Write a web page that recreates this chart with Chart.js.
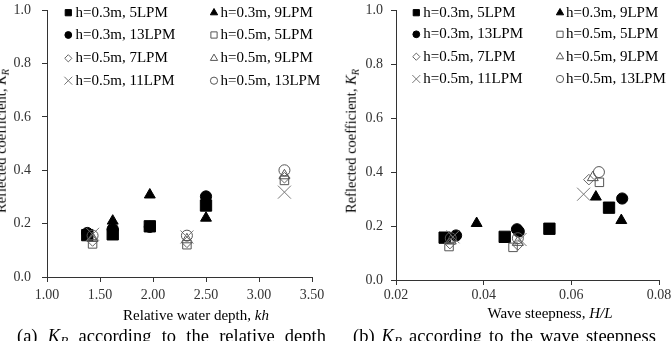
<!DOCTYPE html>
<html><head><meta charset="utf-8">
<script src="https://cdn.jsdelivr.net/npm/chart.js@4"></script>
<style>
html,body{margin:0;padding:0;background:#fff;width:672px;height:341px;overflow:hidden;}
body{position:relative;font-family:"Liberation Serif","Times New Roman",serif;color:#000;}
canvas{position:absolute;top:0;}
#ca{left:0;} #cb{left:336px;}
.t{position:absolute;white-space:nowrap;}
.yt{font-size:14.5px;line-height:14.5px;transform:translate(-50%,-50%) rotate(-90deg);}
.xt{font-size:15px;line-height:15px;transform:translateX(-50%);}
.cap{position:absolute;font-size:18.5px;line-height:19px;display:flex;justify-content:space-between;white-space:nowrap;}
sub{font-size:0.72em;line-height:0;vertical-align:-0.25em;}
</style></head>
<body>
<canvas id="ca" width="336" height="310"></canvas>
<canvas id="cb" width="336" height="310"></canvas>
<div class="t yt" style="left:0.8px;top:141px;">Reflected coefficient, <i>K<sub>R</sub></i></div>
<div class="t yt" style="left:351px;top:141px;">Reflected coefficient, <i>K<sub>R</sub></i></div>
<div class="t xt" style="left:196px;top:308px;">Relative water depth, <i>kh</i></div>
<div class="t xt" style="left:550px;top:306px;">Wave steepness, <i>H/L</i></div>
<div class="cap" style="left:17px;top:327px;width:309px;"><span>(a)</span><span><i>K<sub>R</sub></i></span><span>according</span><span>to</span><span>the</span><span>relative</span><span>depth</span></div>
<div class="cap" style="left:353px;top:327px;width:303px;"><span>(b)</span><span><i>K<sub>R</sub></i></span><span>according</span><span>to</span><span>the</span><span>wave</span><span>steepness</span></div>
<script>
// ---- data ----
const seriesLabels = ['h=0.3m, 5LPM','h=0.3m, 9LPM','h=0.3m, 13LPM','h=0.5m, 5LPM',
                      'h=0.5m, 7LPM','h=0.5m, 9LPM','h=0.5m, 11LPM','h=0.5m, 13LPM'];

// relative water depth kh (chart a)
const kh_03_5  = [1.38, 1.62, 1.97, 2.50];
const kh_03_9  = [1.62, 1.97, 2.50];
const kh_03_13 = [1.38, 1.62, 1.97, 2.50];
const kh_05_5  = [1.43, 2.32, 3.24];
const kh_05_7  = [1.43, 2.32, 3.24];
const kh_05_9  = [1.43, 2.32, 3.24];
const kh_05_11 = [1.43, 2.32, 3.24];
const kh_05_13 = [1.43, 2.32, 3.24];

// wave steepness H/L (chart b)
const hl_03_5  = [0.0311, 0.0448, 0.0550, 0.0686];
const hl_03_9  = [0.0384, 0.0656, 0.0714];
const hl_03_13 = [0.0337, 0.0480, 0.0476, 0.0716];
const hl_05_5  = [0.0321, 0.0467, 0.0664];
const hl_05_7  = [0.0323, 0.0478, 0.0640];
const hl_05_9  = [0.0325, 0.0478, 0.0649];
const hl_05_11 = [0.0330, 0.0483, 0.0628];
const hl_05_13 = [0.0325, 0.0478, 0.0663];

// reflected coefficient K_R
const kr_03_5  = [0.157, 0.160, 0.190, 0.268];
const kr_03_9  = [0.210, 0.308, 0.221];
const kr_03_13 = [0.165, 0.180, 0.188, 0.302];
const kr_05_5  = [0.124, 0.121, 0.362];
const kr_05_7  = [0.135, 0.130, 0.372];
const kr_05_9  = [0.145, 0.140, 0.380];
const kr_05_11 = [0.160, 0.150, 0.318];
const kr_05_13 = [0.155, 0.155, 0.400];

const xTicksA  = [1.0, 1.5, 2.0, 2.5, 3.0, 3.5];
const xLabelsA = ['1.00','1.50','2.00','2.50','3.00','3.50'];
const xTicksB  = [0.02, 0.04, 0.06, 0.08];
const xLabelsB = ['0.02','0.04','0.06','0.08'];
const yTicks   = [0, 0.2, 0.4, 0.6, 0.8, 1.0];
const yLabels  = ['0.0','0.2','0.4','0.6','0.8','1.0'];

const khSeries = [kh_03_5, kh_03_9, kh_03_13, kh_05_5, kh_05_7, kh_05_9, kh_05_11, kh_05_13];
const hlSeries = [hl_03_5, hl_03_9, hl_03_13, hl_05_5, hl_05_7, hl_05_9, hl_05_11, hl_05_13];
const krSeries = [kr_03_5, kr_03_9, kr_03_13, kr_05_5, kr_05_7, kr_05_9, kr_05_11, kr_05_13];

// ---- styles ----
const FONT = 'Liberation Serif';
const NONE = 'rgba(0,0,0,0)';
const styles = [
  {ps:'rect',     r:8.0, fill:'#000', stroke:'#000', lr:4.4},
  {ps:'triangle', r:6.3, fill:'#000', stroke:'#000', lr:4.2},
  {ps:'circle',   r:5.6, fill:'#000', stroke:'#000', lr:3.4},
  {ps:'rect',     r:6.0, fill:NONE,   stroke:'#555', lr:4.4},
  {ps:'rectRot',  r:5.3, fill:NONE,   stroke:'#666', lr:3.6},
  {ps:'triangle', r:6.3, fill:NONE,   stroke:'#555', lr:4.2},
  {ps:'crossRot', r:9.2, fill:NONE,   stroke:'#777', lr:5.6},
  {ps:'circle',   r:5.5, fill:NONE,   stroke:'#555', lr:3.6}
];

function fallbackDraw(ctx, o, x, y) {
  const r = o.radius; ctx.beginPath();
  if (o.pointStyle === 'rect') { const s = Math.SQRT1_2*r; ctx.rect(x-s,y-s,2*s,2*s); }
  else if (o.pointStyle === 'triangle') { for (let k=0;k<3;k++){const a=k*2*Math.PI/3; const px=x+Math.sin(a)*r, py=y-Math.cos(a)*r; k?ctx.lineTo(px,py):ctx.moveTo(px,py);} ctx.closePath(); }
  else if (o.pointStyle === 'rectRot') { ctx.moveTo(x-r,y); ctx.lineTo(x,y-r); ctx.lineTo(x+r,y); ctx.lineTo(x,y+r); ctx.closePath(); }
  else if (o.pointStyle === 'crossRot') { const s=Math.SQRT1_2*r; ctx.moveTo(x-s,y-s); ctx.lineTo(x+s,y+s); ctx.moveTo(x+s,y-s); ctx.lineTo(x-s,y+s); }
  else { ctx.arc(x,y,r,0,2*Math.PI); ctx.closePath(); }
  ctx.fill(); if (o.borderWidth>0) ctx.stroke();
}

const legendPlugin = {
  id: 'cornerLegend',
  afterDraw(chart, args, opts) {
    const ctx = chart.ctx;
    const dp = (Chart.helpers && Chart.helpers.drawPoint) ? Chart.helpers.drawPoint : fallbackDraw;
    chart.data.datasets.forEach((ds, i) => {
      const row = Math.floor(i / 2), col = i % 2;
      const y = opts.rowY[row];
      ctx.save();
      ctx.fillStyle = ds.backgroundColor; ctx.strokeStyle = ds.borderColor; ctx.lineWidth = 1;
      dp(ctx, {pointStyle: ds.pointStyle, radius: ds.legendRadius, rotation: 0, borderWidth: 1}, opts.markerX[col], y);
      ctx.fillStyle = '#000';
      ctx.font = '15px "' + FONT + '"';
      ctx.textBaseline = 'middle'; ctx.textAlign = 'left';
      ctx.fillText(ds.label, opts.textX[col], y);
      ctx.restore();
    });
  }
};

function makeChart(id, xs, xTicks, xLabels, g) {
  return new Chart(document.getElementById(id), {
    type: 'scatter',
    data: { datasets: seriesLabels.map((label, i) => ({
      label,
      data: xs[i].map((x, j) => ({x: x, y: krSeries[i][j]})),
      pointStyle: styles[i].ps, pointRadius: styles[i].r, pointHoverRadius: styles[i].r,
      backgroundColor: styles[i].fill, borderColor: styles[i].stroke, borderWidth: 1,
      order: 8 - i, legendRadius: styles[i].lr
    })) },
    options: {
      responsive: false, animation: false, events: [],
      layout: { padding: { top: g.top, right: g.right, left: 0, bottom: 0 } },
      plugins: {
        legend: { display: false }, tooltip: { enabled: false },
        cornerLegend: { rowY: g.rowY, markerX: g.markerX, textX: g.textX }
      },
      scales: {
        x: {
          type: 'linear', position: 'bottom', min: xTicks[0], max: xTicks[xTicks.length-1],
          afterBuildTicks: s => { s.ticks = xTicks.map(v => ({value: v})); },
          ticks: { callback: (v, i) => xLabels[i], font: {family: FONT, size: 14}, color: '#333',
                   padding: g.xpad, maxRotation: 0, autoSkip: false },
          grid: { drawOnChartArea: false, drawTicks: true, tickLength: 5, color: '#333' },
          border: { color: '#333', width: 1 },
          afterFit: s => { s.height = g.xh; s.paddingLeft = 0; s.paddingRight = 0; }
        },
        y: {
          type: 'linear', position: 'left', min: 0, max: 1,
          afterBuildTicks: s => { s.ticks = yTicks.map(v => ({value: v})); },
          ticks: { callback: (v, i) => yLabels[i], font: {family: FONT, size: 14}, color: '#333',
                   padding: g.ypad, autoSkip: false },
          grid: { drawOnChartArea: false, drawTicks: true, tickLength: 5, color: '#333' },
          border: { color: '#333', width: 1 },
          afterFit: s => { s.width = g.yw; s.paddingTop = 0; s.paddingBottom = 0; }
        }
      }
    },
    plugins: [legendPlugin]
  });
}

makeChart('ca', khSeries, xTicksA, xLabelsA,
  {top: 9.3, right: 24, yw: 47, xh: 33, xpad: 5, ypad: 11,
   rowY: [12.7, 35, 58.3, 80.7], markerX: [68.3, 214], textX: [75.5, 220.5]});
makeChart('cb', hlSeries, xTicksB, xLabelsB,
  {top: 9, right: 13, yw: 60, xh: 30, xpad: 2, ypad: 8,
   rowY: [12.7, 34.3, 56.7, 79], markerX: [80.3, 224], textX: [87.3, 230]});
</script>
</body></html>
